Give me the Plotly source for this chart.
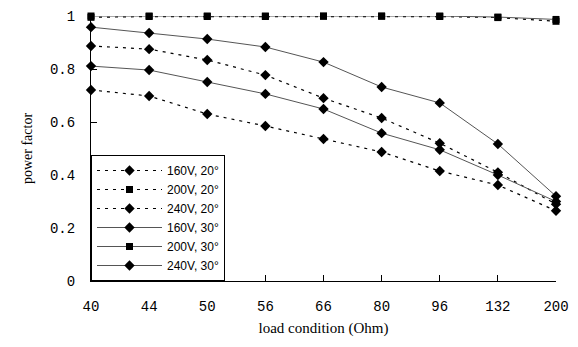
import plotly.graph_objects as go

loads = ["40", "44", "50", "56", "66", "80", "96", "132", "200"]
pf_160v_20 = [0.887, 0.875, 0.834, 0.777, 0.69, 0.615, 0.52, 0.41, 0.29]
pf_200v_20 = [0.995, 0.998, 0.998, 0.998, 0.999, 0.999, 0.998, 0.994, 0.98]
pf_240v_20 = [0.721, 0.698, 0.630, 0.585, 0.536, 0.487, 0.415, 0.362, 0.265]
pf_160v_30 = [0.958, 0.936, 0.913, 0.883, 0.826, 0.732, 0.672, 0.517, 0.32]
pf_200v_30 = [1.0, 1.0, 1.0, 1.0, 1.0, 1.0, 1.0, 0.996, 0.987]
pf_240v_30 = [0.811, 0.796, 0.751, 0.706, 0.649, 0.558, 0.495, 0.40, 0.30]

series = [
    ("160V, 20°", pf_160v_20, "dashed", "diamond"),
    ("200V, 20°", pf_200v_20, "dashed", "square"),
    ("240V, 20°", pf_240v_20, "dashed", "diamond"),
    ("160V, 30°", pf_160v_30, "solid", "diamond"),
    ("200V, 30°", pf_200v_30, "solid", "square"),
    ("240V, 30°", pf_240v_30, "solid", "diamond"),
]

fig = go.Figure()
for name, vals, style, sym in series:
    if style == "dashed":
        line = dict(color="black", width=1.2, dash="3px,5px")
    else:
        line = dict(color="#555555", width=1)
    fig.add_trace(go.Scatter(
        x=loads, y=vals, name=name, mode="lines+markers",
        line=line,
        marker=dict(symbol=sym, size=8 if sym == "diamond" else 7, color="black"),
        cliponaxis=False,
    ))

fig.update_layout(
    width=578, height=347,
    margin=dict(l=83, r=30, t=8, b=74),
    paper_bgcolor="white", plot_bgcolor="white",
    font=dict(family="Liberation Serif", color="black"),
    showlegend=True,
    legend=dict(
        x=0, y=0, xanchor="left", yanchor="bottom",
        bgcolor="white", bordercolor="black", borderwidth=1,
        font=dict(family="Liberation Sans", size=12, color="black"),
        itemwidth=65, tracegroupgap=0,
    ),
    xaxis=dict(
        type="category", range=[0, 8], automargin=False,
        showline=True, linecolor="black", linewidth=1,
        ticks="inside", ticklen=6, tickcolor="black",
        showgrid=False, zeroline=False,
        tickfont=dict(family="Liberation Mono", size=14, color="black"),
        ticklabelstandoff=12,
        title=dict(text="load condition (Ohm)", font=dict(family="Liberation Serif", size=15), standoff=8),
    ),
    yaxis=dict(
        range=[0, 1], tickvals=[0, 0.2, 0.4, 0.6, 0.8, 1], automargin=False,
        showline=True, linecolor="black", linewidth=1,
        ticks="inside", ticklen=6, tickcolor="black",
        showgrid=False, zeroline=False,
        tickfont=dict(family="Liberation Mono", size=14, color="black"),
        ticklabelstandoff=12,
        title=dict(text="power factor", font=dict(family="Liberation Serif", size=14), standoff=14),
    ),
)

fig.write_html("out.html")
